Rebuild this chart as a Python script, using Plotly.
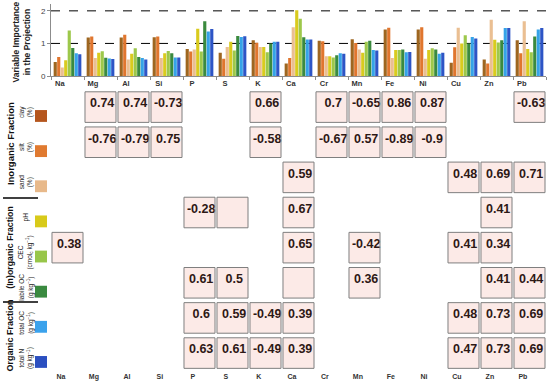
import plotly.graph_objects as go

W, H = 550, 386

elements = ["Na", "Mg", "Al", "Si", "P", "S", "K", "Ca", "Cr", "Mn", "Fe", "Ni", "Cu", "Zn", "Pb"]
properties = ["clay", "silt", "sand", "pH", "CEC", "labile OC", "total OC", "total N"]
prop_labels = ["clay<br>(%)", "silt<br>(%)", "sand<br>(%)", "pH",
               "CEC<br>(cmol<sub>c</sub> kg<sup>−1</sup>)", "labile OC<br>(g kg<sup>−1</sup>)",
               "total OC<br>(g kg<sup>−1</sup>)", "total N<br>(g kg<sup>−1</sup>)"]
colors = ["#9E6620", "#E0762E", "#EABF92", "#D9CB1E", "#9DC84B", "#3B8A3E", "#35A3E8", "#2D55C6"]
legend_colors = ["#B5561E", "#E07A30", "#E8B98A", "#D8CA1A", "#98C64A", "#3A8A40", "#3AA2EC", "#2B4FC0"]

vip_clay = [0.43, 1.18, 1.18, 1.19, 0.83, 0.71, 1.10, 0.38, 1.08, 1.13, 1.43, 1.43, 0.41, 0.51, 1.10]
vip_silt = [0.58, 1.21, 1.27, 1.21, 0.75, 0.53, 1.02, 0.55, 1.07, 1.01, 1.48, 1.50, 0.88, 0.38, 0.70]
vip_sand = [0.26, 0.55, 0.51, 0.55, 0.81, 0.89, 0.89, 1.50, 0.61, 0.81, 0.55, 0.53, 1.48, 1.73, 1.68]
vip_ph = [0.48, 0.71, 0.68, 0.70, 1.45, 1.05, 0.89, 2.02, 0.61, 0.71, 0.80, 0.80, 1.00, 1.11, 0.83]
vip_cec = [1.40, 0.76, 0.85, 0.77, 0.75, 0.78, 0.73, 1.76, 0.57, 1.05, 0.80, 0.85, 1.25, 1.03, 0.73]
vip_labile_oc = [0.86, 0.56, 0.58, 0.70, 1.68, 1.23, 1.00, 1.19, 0.64, 1.08, 0.81, 0.81, 1.00, 1.10, 1.21]
vip_total_oc = [0.70, 0.54, 0.55, 0.57, 1.37, 1.20, 1.05, 1.12, 0.70, 0.80, 0.73, 0.68, 1.20, 1.47, 1.43]
vip_total_n = [0.67, 0.52, 0.51, 0.57, 1.44, 1.22, 1.05, 1.12, 0.68, 0.78, 0.74, 0.71, 1.15, 1.47, 1.47]
vip_series = [vip_clay, vip_silt, vip_sand, vip_ph, vip_cec, vip_labile_oc, vip_total_oc, vip_total_n]

# correlation panels: property, element, label
corr_props = (["clay"] * 9 + ["silt"] * 8 + ["sand"] * 4 + ["pH"] * 4 + ["CEC"] * 5
              + ["labile OC"] * 6 + ["total OC"] * 7 + ["total N"] * 7)
corr_elems = (["Mg", "Al", "Si", "K", "Cr", "Mn", "Fe", "Ni", "Pb"]
              + ["Mg", "Al", "Si", "K", "Cr", "Mn", "Fe", "Ni"]
              + ["Ca", "Cu", "Zn", "Pb"]
              + ["P", "S", "Ca", "Zn"]
              + ["Na", "Ca", "Mn", "Cu", "Zn"]
              + ["P", "S", "Ca", "Mn", "Zn", "Pb"]
              + ["P", "S", "K", "Ca", "Cu", "Zn", "Pb"]
              + ["P", "S", "K", "Ca", "Cu", "Zn", "Pb"])
corr_text = (["0.74", "0.74", "-0.73", "0.66", "0.7", "-0.65", "0.86", "0.87", "-0.63"]
             + ["-0.76", "-0.79", "0.75", "-0.58", "-0.67", "0.57", "-0.89", "-0.9"]
             + ["0.59", "0.48", "0.69", "0.71"]
             + ["-0.28", "", "0.67", "0.41"]
             + ["0.38", "0.65", "-0.42", "0.41", "0.34"]
             + ["0.61", "0.5", "", "0.36", "0.41", "0.44"]
             + ["0.6", "0.59", "-0.49", "0.39", "0.48", "0.73", "0.69"]
             + ["0.63", "0.61", "-0.49", "0.39", "0.47", "0.73", "0.69"])

fig = go.Figure()
xpos = list(range(len(elements)))
for p, vals, c in zip(properties, vip_series, colors):
    fig.add_trace(go.Bar(x=xpos, y=vals, name=p, marker=dict(color=c, line=dict(width=0)),
                         xaxis="x", yaxis="y", showlegend=False))

cx = [elements.index(e) for e in corr_elems]
cy = [properties.index(p) for p in corr_props]
shapes = []
for x, y in zip(cx, cy):
    shapes.append(dict(type="rect", xref="x2", yref="y2", x0=x - 0.47, x1=x + 0.47,
                       y0=y - 0.435, y1=y + 0.435,
                       fillcolor="rgba(240,140,120,0.18)", line=dict(color="#7f7f7f", width=1)))
fig.add_trace(go.Scatter(x=[x + 0.05 for x in cx], y=[y - 0.08 for y in cy], text=corr_text,
                         mode="text", textfont=dict(family="Arial", size=12.5, color="black", weight="bold"),
                         xaxis="x2", yaxis="y2", showlegend=False, hoverinfo="skip"))

x_dom = [51 / W, 546 / W]
row_c0, row_pitch = 108.5, 35.6

def py(v):
    return 1 - v / H

annotations = []
for i, lab in enumerate(prop_labels):
    yc = row_c0 + row_pitch * i
    shapes.append(dict(type="rect", xref="paper", yref="paper", x0=35 / W, x1=47 / W,
                       y0=py(yc + 15), y1=py(yc + 3), fillcolor=legend_colors[i], line=dict(width=0)))
    annotations.append(dict(xref="paper", yref="paper", x=26 / W, y=py(yc + 5), text=lab,
                            showarrow=False, textangle=-90, font=dict(size=6.5, color="#222"),
                            xanchor="center", yanchor="middle"))

for t, yc, sz in [("Inorganic Fraction", 146, 9.5), ("(In)organic Fraction", 251, 8.8),
                  ("Organic Fraction", 340, 9)]:
    annotations.append(dict(xref="paper", yref="paper", x=10 / W, y=py(yc), text=t, showarrow=False,
                            textangle=-90, font=dict(size=sz, color="#111", weight="bold"),
                            xanchor="center", yanchor="middle"))
for yl in [200.5, 306]:
    shapes.append(dict(type="line", xref="paper", yref="paper", x0=3 / W, x1=38 / W,
                       y0=py(yl), y1=py(yl), line=dict(color="black", width=1.5)))

annotations.append(dict(xref="paper", yref="paper", x=21 / W, y=py(43),
                        text="Variable Importance<br>in the Projection", showarrow=False,
                        textangle=-90, font=dict(size=8.5, color="#222", weight="bold"),
                        xanchor="center", yanchor="middle"))

fig.update_layout(
    width=W, height=H, margin=dict(l=0, r=0, t=0, b=0),
    paper_bgcolor="white", plot_bgcolor="white",
    font=dict(family="Liberation Sans, Arial", color="#333"),
    barmode="group", bargap=0.15, bargroupgap=0.1,
    xaxis=dict(domain=x_dom, range=[-0.5, 14.5], anchor="y",
               tickmode="array", tickvals=[i - 0.23 for i in xpos], ticktext=elements,
               ticks="", tickfont=dict(size=7.5, color="#333", weight="bold"),
               showline=True, linecolor="#8c8c8c", linewidth=1, showgrid=False, zeroline=False,
               minor=dict(tickmode="linear", tick0=-0.5, dtick=1, ticks="outside", ticklen=3,
                          tickcolor="#8c8c8c", showgrid=False)),
    yaxis=dict(domain=[py(77), py(4.4)], range=[0, 2.2], anchor="x",
               tickvals=[0, 1, 2], ticks="outside", ticklen=3, tickcolor="#8c8c8c",
               tickfont=dict(size=8, color="#444"),
               showline=True, linecolor="#8c8c8c", linewidth=1,
               showgrid=False, zeroline=False),
    xaxis2=dict(domain=x_dom, range=[-0.5, 14.5], anchor="y2",
                tickmode="array", tickvals=[i - 0.2 for i in xpos], ticktext=elements,
                ticks="", tickfont=dict(size=7, color="#333", weight="bold"),
                showline=False, showgrid=False, zeroline=False),
    yaxis2=dict(domain=[py(row_c0 + row_pitch * 7.5), py(row_c0 - row_pitch * 0.5)],
                range=[7.5, -0.5], anchor="x2", showticklabels=False, showgrid=False,
                zeroline=False, showline=False),
    shapes=shapes + [dict(type="line", xref="x", yref="y", x0=-0.5, x1=14.5, y0=g, y1=g,
                          line=dict(color="black", width=1, dash="dash"), layer="below")
                     for g in [1, 2]],
    annotations=annotations,
)

fig.write_html("out.html", config={"displayModeBar": False},
               post_script="document.body.style.margin='0';document.body.style.padding='0';")
